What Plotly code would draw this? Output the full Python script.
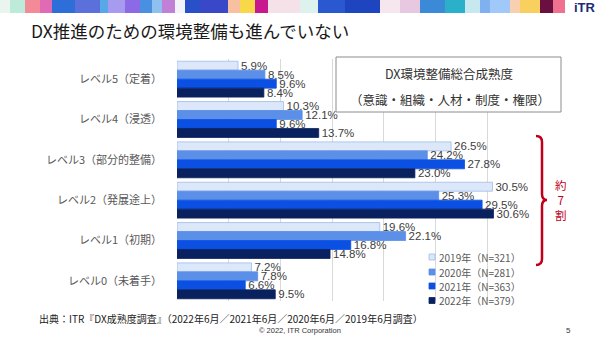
import plotly.graph_objects as go

# ---- data ----
categories = ["レベル5（定着）", "レベル4（浸透）", "レベル3（部分的整備）",
              "レベル2（発展途上）", "レベル1（初期）", "レベル0（未着手）"]
years = ["2019年", "2020年", "2021年", "2022年"]
sample_n = [321, 281, 363, 379]
v2019 = [5.9, 10.3, 26.5, 30.5, 19.6, 7.2]
v2020 = [8.5, 12.1, 24.2, 25.3, 22.1, 7.8]
v2021 = [9.6, 9.6, 27.8, 29.5, 16.8, 6.6]
v2022 = [8.4, 13.7, 23.0, 30.6, 14.8, 9.5]
series = [v2019, v2020, v2021, v2022]
x_ticks = [0, 5, 10, 15, 20, 25, 30, 35]

colors = ["#DCE7FA", "#5B8FE8", "#0B50E2", "#0A2160"]
outlines = ["#9DBCEB", "#5B8FE8", "#0B50E2", "#0A2160"]

W, H = 600, 337
L, R, T, B = 177, 539, 59, 301


def px(x):
    return (x - L) / (R - L)


def py(y):
    return (B - y) / (B - T)


JP = "Noto Sans CJK JP"
LAT = "Liberation Sans, Arial, sans-serif"

fig = go.Figure()
for i, vals in enumerate(series):
    fig.add_trace(go.Bar(
        y=categories, x=vals, orientation="h",
        name=f"{years[i]}（N={sample_n[i]}）",
        marker=dict(color=colors[i], line=dict(color=outlines[i], width=0.8)),
        text=[f"{v:.1f}%" for v in vals], textposition="outside",
        textfont=dict(family=LAT, size=11.5, color="#404040"),
        constraintext="none", cliponaxis=False, showlegend=False,
    ))

fig.update_layout(
    width=W, height=H, barmode="group", bargap=0.11, bargroupgap=0,
    margin=dict(l=L, r=W - R, t=T, b=H - B, pad=0),
    paper_bgcolor="white", plot_bgcolor="white",
    xaxis=dict(range=[0, 35], tickvals=x_ticks, showticklabels=False,
               showgrid=True, gridcolor="#D9D9D9", gridwidth=1,
               zeroline=False, showline=False, ticks=""),
    yaxis=dict(autorange="reversed", showgrid=False, zeroline=False,
               ticks="", ticklabelstandoff=14,
               tickfont=dict(family=JP, size=11, color="#595959")),
    font=dict(family=JP),
)

shapes = []
# decorative banner
banner = [
    (0, 10, "#EAF5EF"), (10, 25, "#BDEBDA"), (25, 40, "#F28A98"), (40, 52, "#E06AB4"),
    (52, 75, "#2E6ED8"), (75, 100, "#5C70DC"), (100, 108, "#58A8E8"), (108, 125, "#A79BF0"),
    (125, 140, "#8C6AE6"), (140, 152, "#4A90E0"), (152, 162, "#8FC0F0"), (162, 175, "#C080D8"),
    (175, 185, "#F2F4FA"), (185, 200, "#2850C8"), (200, 228, "#3848C8"), (228, 240, "#F8C0A0"),
    (240, 255, "#F8D848"), (255, 268, "#C81890"), (268, 300, "#F4E2E8"), (300, 318, "#DDF2EE"),
    (318, 345, "#2A58D0"), (345, 380, "#1F44C0"), (380, 400, "#F6E6EE"), (400, 420, "#E8C8E0"),
    (420, 445, "#3A8AD8"), (445, 465, "#2AB0C8"), (465, 480, "#C8E8F0"), (480, 490, "#7FB0F0"),
    (490, 510, "#A0C8F8"), (510, 520, "#F8D0B0"), (520, 540, "#F8D060"), (540, 553, "#6A1040"),
    (553, 565, "#F07090"),
]
for x0, x1, c in banner:
    shapes.append(dict(type="rect", xref="paper", yref="paper", x0=px(x0), x1=px(x1),
                       y0=py(13), y1=py(0), fillcolor=c, line=dict(width=0), layer="above"))

# info box
shapes.append(dict(type="rect", xref="paper", yref="paper", x0=px(336), x1=px(561),
                   y0=py(112), y1=py(57), fillcolor="white",
                   line=dict(color="#8C8C8C", width=1), layer="above"))

# custom legend markers
leg_y = [257, 272, 286, 300.5]
for i in range(4):
    shapes.append(dict(type="rect", xref="paper", yref="paper", x0=px(429), x1=px(435),
                       y0=py(leg_y[i] + 3), y1=py(leg_y[i] - 3), fillcolor=colors[i],
                       line=dict(color=outlines[i], width=0.8), layer="above"))

# red brace
pts = [(536, 136), (542, 136), (542, 142), (542, 194), (542, 200), (547, 200),
       (542, 200), (542, 206), (542, 259), (542, 265), (536, 265)]
P = [(px(a), py(b)) for a, b in pts]
path = (f"M {P[0][0]},{P[0][1]} Q {P[1][0]},{P[1][1]} {P[2][0]},{P[2][1]} "
        f"L {P[3][0]},{P[3][1]} Q {P[4][0]},{P[4][1]} {P[5][0]},{P[5][1]} "
        f"Q {P[6][0]},{P[6][1]} {P[7][0]},{P[7][1]} L {P[8][0]},{P[8][1]} "
        f"Q {P[9][0]},{P[9][1]} {P[10][0]},{P[10][1]}")
shapes.append(dict(type="path", xref="paper", yref="paper", path=path,
                   line=dict(color="#C0001A", width=2.5), layer="above"))

fig.update_layout(shapes=shapes)

ann = []


def note(x, y, text, size, color="#222222", family=JP, xanchor="left", **kw):
    ann.append(dict(x=px(x), y=py(y), xref="paper", yref="paper", text=text,
                    showarrow=False, xanchor=xanchor, yanchor="middle",
                    font=dict(family=family, size=size, color=color), **kw))


note(29, 31, "DX推進のための環境整備も進んでいない", 17.5, "#1A1A1A")
note(585, 7, "<b>iTR</b>", 13, "#1B2A7A", family=LAT, xanchor="center")
note(449, 73, "DX環境整備総合成熟度", 12.5, "#333333", xanchor="center")
note(450, 99, "（意識・組織・人材・制度・権限）", 12.5, "#333333", xanchor="center")
for i in range(4):
    note(437, leg_y[i], f"{years[i]}（N={sample_n[i]}）", 10, "#595959")
note(561, 200, "約<br>7<br>割", 11.5, "#C0001A", xanchor="center")
note(37, 318, "出典：ITR『DX成熟度調査』（2022年6月／2021年6月／2020年6月／2019年6月調査）", 10, "#222222")
note(300, 330, "© 2022, ITR Corporation", 7.5, "#333333", family=LAT, xanchor="center")
note(568, 330, "5", 8, "#333333", family=LAT, xanchor="center")

fig.update_layout(annotations=ann)
fig.write_html("out.html")
